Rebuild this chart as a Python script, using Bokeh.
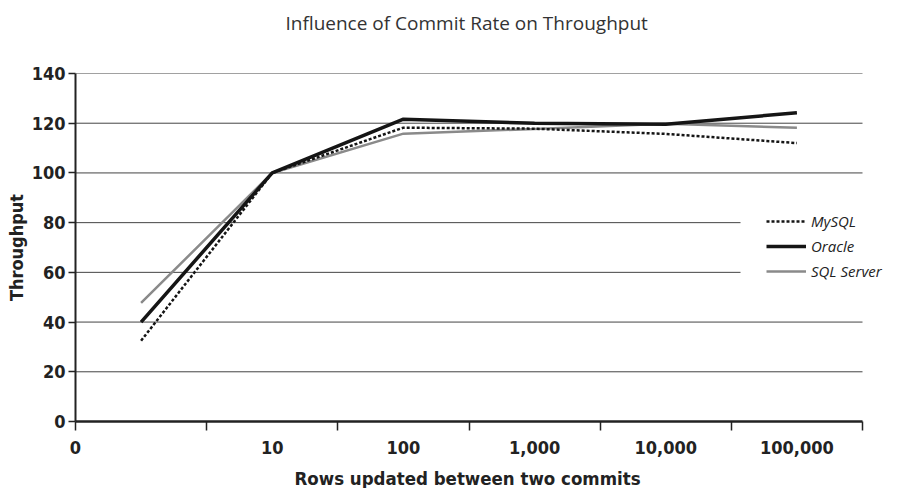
from bokeh.plotting import figure
from bokeh.models import (Range1d, FixedTicker, Legend, LegendItem,
                          BoxAnnotation, ColumnDataSource, Title)
from bokeh.embed import file_html
from bokeh.resources import INLINE

# ---- data -------------------------------------------------------------
title_text = "Influence of Commit Rate on Throughput"
x_title = "Rows updated between two commits"
y_title = "Throughput"
x_tick_labels = ["0", "10", "100", "1,000", "10,000", "100,000"]
y_ticks = [0, 20, 40, 60, 80, 100, 120, 140]
series_names = ["MySQL", "Oracle", "SQL Server"]
mysql = [32.5, 100, 118.2, 117.8, 115.7, 112.0]
oracle = [40.0, 100, 121.6, 120.0, 119.6, 124.2]
sqlserver = [47.7, 100, 115.8, 117.7, 119.8, 118.2]

n = len(mysql)
xpos = [i + 0.5 for i in range(n)]
label_pos = [0] + xpos[1:]
src = ColumnDataSource(dict(x=xpos, mysql=mysql, oracle=oracle, sqlserver=sqlserver))

BOLD = "DejaVu Sans Condensed"
DARK = "#222222"

AXIS_W = 787          # pixel length of the category axis
FRAME_W = 814
x_end = n * FRAME_W / AXIS_W

p = figure(frame_width=FRAME_W, frame_height=348,
           output_backend="svg", toolbar_location=None,
           x_range=Range1d(0, x_end), y_range=Range1d(0, 140),
           min_border_left=75, min_border_right=0,
           min_border_top=73, min_border_bottom=0)
p.outline_line_color = None
p.background_fill_color = "white"

# title (left aligned with an offset so it sits centred over the axis span)
p.title.text = title_text
p.title.align = "left"
p.title.offset = 210
p.title.text_font = "Open Sans"
p.title.text_font_size = "19px"
p.title.text_font_style = "normal"
p.title.text_color = "#333333"
p.title.standoff = 4
p.add_layout(Title(text=" ", text_font_size="2px", standoff=32), "above")

# x axis
xa = p.xaxis[0]
xa.bounds = (0, n)
xa.ticker = FixedTicker(ticks=label_pos, minor_ticks=list(range(n + 1)))
xa.major_label_overrides = {pos: lab for pos, lab in zip(label_pos, x_tick_labels)}
xa.major_tick_line_color = None
xa.major_tick_out = 9
xa.major_tick_in = 0
xa.minor_tick_out = 9
xa.minor_tick_in = 0
xa.minor_tick_line_color = DARK
xa.minor_tick_line_width = 1.5
xa.axis_line_color = DARK
xa.axis_line_width = 2.5
xa.major_label_text_font = BOLD
xa.major_label_text_font_style = "bold"
xa.major_label_text_font_size = "18px"
xa.major_label_text_color = DARK
xa.major_label_standoff = 10

# x axis title, as a below-panel title centred over the axis span
p.add_layout(Title(text=" ", text_font_size="2px", standoff=5), "below")
p.add_layout(Title(text=x_title, align="left", offset=219, standoff=0,
                   text_font=BOLD, text_font_style="bold",
                   text_font_size="18.5px", text_color=DARK), "below")

# y axis
ya = p.yaxis[0]
ya.ticker = FixedTicker(ticks=y_ticks, minor_ticks=[])
ya.major_tick_out = 7
ya.major_tick_in = 0
ya.major_tick_line_color = DARK
ya.major_tick_line_width = 1.5
ya.axis_line_color = DARK
ya.axis_line_width = 2
ya.major_label_text_font = BOLD
ya.major_label_text_font_style = "bold"
ya.major_label_text_font_size = "18px"
ya.major_label_text_color = DARK
ya.major_label_standoff = 3
ya.axis_label = y_title
ya.axis_label_text_font = BOLD
ya.axis_label_text_font_style = "bold"
ya.axis_label_text_font_size = "18px"
ya.axis_label_text_color = DARK
ya.axis_label_standoff = 2

# grid lines, limited to the category span
p.xgrid.visible = False
p.ygrid.visible = False
grid_y = y_ticks[1:]
p.segment(x0=[0] * len(grid_y), x1=[n] * len(grid_y), y0=grid_y, y1=grid_y,
          line_color="#444444", line_width=1)

# series
r_sql = p.line("x", "sqlserver", source=src, line_color="#8a8a8a", line_width=2.5)
r_ora = p.line("x", "oracle", source=src, line_color="#151515", line_width=3.5)
r_my = p.line("x", "mysql", source=src, line_color="#151515", line_width=2.5,
              line_dash="3 2")

# white area behind the legend (hides gridlines there)
cover = BoxAnnotation(left=5.07, right=x_end, bottom=50, top=90,
                      fill_color="white", fill_alpha=1.0, line_color=None)
p.add_layout(cover)

legend = Legend(items=[LegendItem(label=series_names[0], renderers=[r_my]),
                       LegendItem(label=series_names[1], renderers=[r_ora]),
                       LegendItem(label=series_names[2], renderers=[r_sql])],
                location=(691, 140),
                glyph_width=40, glyph_height=20, label_height=20,
                label_standoff=5, spacing=5, padding=0, margin=0,
                background_fill_alpha=0, border_line_color=None,
                label_text_font="Open Sans", label_text_font_style="italic",
                label_text_font_size="15px", label_text_color=DARK)
p.add_layout(legend, "center")

open("out.html", "w").write(file_html(p, INLINE))
